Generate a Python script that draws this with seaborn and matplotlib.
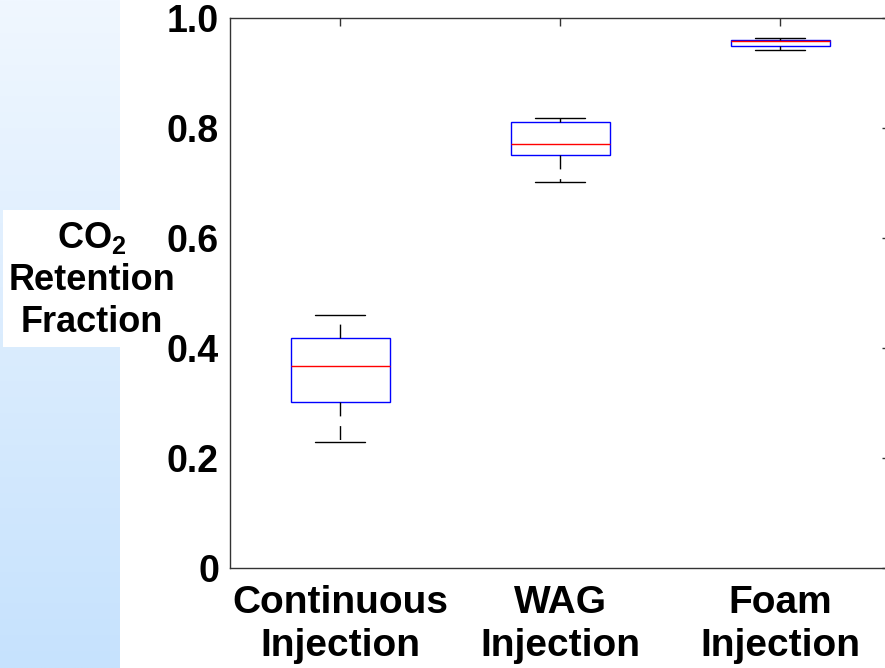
import numpy as np
import pandas as pd
import matplotlib
matplotlib.use("Agg")
import matplotlib.pyplot as plt
import seaborn as sns
from matplotlib.patches import Rectangle
from matplotlib.colors import LinearSegmentedColormap

# ---- data ----
categories = ["Continuous\nInjection", "WAG\nInjection", "Foam\nInjection"]
# five-number summaries: min, q1, median, q3, max
continuous_vals = [0.229, 0.302, 0.367, 0.418, 0.460]
wag_vals = [0.702, 0.751, 0.771, 0.811, 0.818]
foam_vals = [0.942, 0.949, 0.958, 0.960, 0.964]
yticks = [0, 0.2, 0.4, 0.6, 0.8, 1.0]
ytick_labels = ["0", "0.2", "0.4", "0.6", "0.8", "1.0"]
ylabel_lines = ["CO$_{2}$", "Retention", "Fraction"]

df = pd.DataFrame({
    "method": [categories[0]] * 5 + [categories[1]] * 5 + [categories[2]] * 5,
    "value": continuous_vals + wag_vals + foam_vals,
})

sns.set_style("white")
plt.rcParams["font.family"] = ["Liberation Sans", "DejaVu Sans"]
plt.rcParams["font.weight"] = "bold"
plt.rcParams["text.color"] = "black"
plt.rcParams["xtick.color"] = "black"
plt.rcParams["ytick.color"] = "black"
plt.rcParams["mathtext.fontset"] = "custom"
plt.rcParams["mathtext.rm"] = "Liberation Sans:bold"
plt.rcParams["mathtext.bf"] = "Liberation Sans:bold"
plt.rcParams["mathtext.it"] = "Liberation Sans:bold"

W, H = 885, 668
fig = plt.figure(figsize=(W / 100, H / 100), dpi=100)

# left gradient strip
bg = fig.add_axes([0, 0, 120 / W, 1], zorder=0)
cmap = LinearSegmentedColormap.from_list("g", ["#f0f7ff", "#c6e2fd"])
bg.imshow(np.linspace(0, 1, 256).reshape(-1, 1), aspect="auto", cmap=cmap,
          extent=[0, 1, 0, 1], origin="upper")
bg.set_axis_off()

# white box behind y label
fig.patches.append(Rectangle((3 / W, 1 - 347 / H), 177 / W, 137 / H,
                             transform=fig.transFigure, facecolor="white",
                             edgecolor="none", zorder=1))

ax = fig.add_axes([230 / W, (H - 568) / H, 660 / W, 550 / H], zorder=2)
ax.set_facecolor("none")

sns.boxplot(data=df, x="method", y="value", ax=ax, whis=(0, 100),
            showfliers=False, width=0.45, linewidth=1,
            boxprops=dict(facecolor="none", edgecolor="blue", linewidth=1),
            medianprops=dict(color="red", linewidth=1),
            whiskerprops=dict(color="black", linestyle=(0, (10, 7)), linewidth=1),
            capprops=dict(color="black", linewidth=1))

ax.set_xlim(-0.5, 2.5)
ax.set_ylim(0, 1)
ax.set_yticks(yticks)
ax.set_yticklabels(ytick_labels, fontsize=27, fontweight="bold", color="black")
ax.set_xticks(range(3))
ax.set_xticklabels(categories, fontsize=28, fontweight="bold", color="black",
                   linespacing=1.25)
ax.set_xlabel("")
ax.set_ylabel("")
for s in ax.spines.values():
    s.set_visible(True)
    s.set_color("#333333")
    s.set_linewidth(1)
ax.tick_params(axis="both", direction="in", length=6, width=1, color="#333333",
               top=True, right=True, labelcolor="black")
ax.tick_params(axis="y", pad=8)
ax.tick_params(axis="x", pad=12)

# y label as three centered lines
for txt, yc in zip(ylabel_lines, [238, 280, 323]):
    fig.text(92 / W, 1 - yc / H, txt, ha="center", va="center", fontsize=26,
             fontweight="bold", color="black", zorder=3)

fig.savefig("out.png", dpi=100)
